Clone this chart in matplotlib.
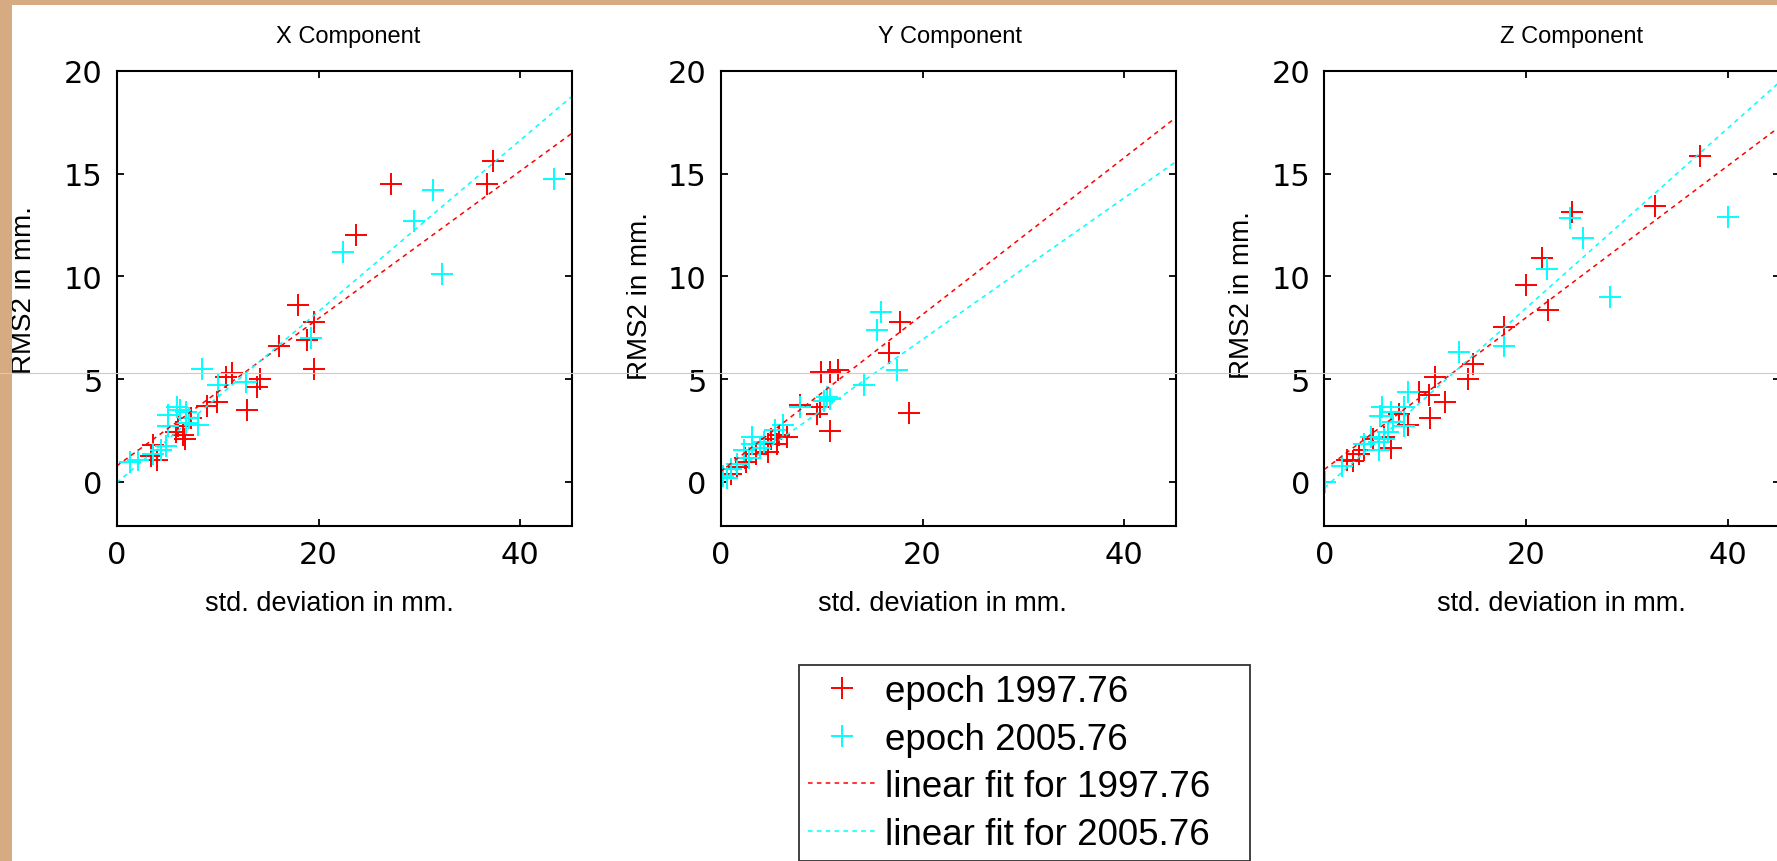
import matplotlib
matplotlib.use('Agg')
import matplotlib.pyplot as plt
from matplotlib.patches import Rectangle
from matplotlib.lines import Line2D

plt.rcParams['font.family'] = ['Liberation Sans', 'DejaVu Sans']

# ---------------- data ----------------
titles = ['X Component', 'Y Component', 'Z Component']
xlabel_text = 'std. deviation in mm.'
ylabel_text = 'RMS2 in mm.'
legend_labels = ['epoch 1997.76', 'epoch 2005.76',
                 'linear fit for 1997.76', 'linear fit for 2005.76']
xticks = [0, 20, 40]
yticks = [0, 5, 10, 15, 20]

# X component
x_red_x = [27.2, 37.3, 36.7, 23.7, 18.0, 19.6, 18.9, 19.6, 16.1, 11.4, 10.8, 14.2,
           13.9, 12.9, 9.9, 8.9, 7.4, 6.6, 5.9, 6.8, 3.6, 3.4, 4.0, 6.1]
x_red_y = [14.5, 15.6, 14.5, 12.0, 8.6, 7.8, 6.9, 5.5, 6.6, 5.3, 5.1, 5.0,
           4.6, 3.5, 3.9, 3.7, 3.1, 2.3, 2.4, 2.1, 1.8, 1.25, 1.05, 2.7]
x_cyan_x = [43.3, 31.3, 29.5, 32.2, 22.4, 19.3, 8.5, 10.0, 12.8, 5.95, 5.1, 6.9,
            6.25, 8.1, 6.9, 5.1, 4.85, 4.35, 3.6, 2.1, 1.3, 7.2]
x_cyan_y = [14.75, 14.2, 12.7, 10.1, 11.2, 7.0, 5.5, 4.7, 4.85, 3.65, 3.25, 3.4,
            3.5, 2.75, 2.85, 2.7, 1.75, 1.55, 1.35, 1.05, 0.95, 3.1]
x_fit_red = [0.77, 16.98]
x_fit_cyan = [-0.05, 18.78]

# Y component
y_red_x = [18.7, 17.8, 16.7, 9.9, 10.8, 11.6, 10.8, 9.5, 9.8, 7.9, 6.6, 5.8,
           5.0, 4.65, 4.65, 3.5, 2.55, 1.6, 1.0, 0.65, 2.4, 5.6]
y_red_y = [3.35, 7.8, 6.25, 5.35, 5.35, 5.45, 2.45, 3.3, 3.65, 3.75, 2.2, 2.3,
           2.1, 1.85, 1.45, 1.35, 0.95, 0.7, 0.4, 0.2, 1.15, 1.85]
y_cyan_x = [15.85, 15.5, 17.5, 14.2, 10.5, 10.2, 10.8, 7.9, 6.2, 5.4, 4.3, 3.9,
            3.1, 2.35, 2.85, 1.6, 1.0, 0.25, 0.65, 3.1]
y_cyan_y = [8.25, 7.4, 5.45, 4.7, 4.15, 3.95, 4.05, 3.65, 2.75, 2.5, 1.95, 1.65,
            1.85, 1.55, 1.15, 0.85, 0.6, 0.3, 0.2, 2.2]
y_fit_red = [0.5, 17.75]
y_fit_cyan = [0.03, 15.6]

# Z component
z_red_x = [37.2, 32.8, 24.5, 21.6, 20.0, 22.2, 17.8, 14.7, 14.2, 11.0, 12.0, 10.4,
           10.5, 9.4, 8.3, 7.4, 6.6, 5.9, 4.8, 3.9, 3.4, 2.8, 2.25]
z_red_y = [15.85, 13.45, 13.15, 10.9, 9.6, 8.35, 7.55, 5.75, 5.0, 5.1, 3.9, 4.2,
           3.1, 4.35, 2.75, 3.3, 1.65, 2.2, 2.1, 1.55, 1.35, 1.0, 1.05]
z_cyan_x = [40.0, 24.3, 25.6, 22.1, 28.3, 13.3, 17.8, 8.3, 7.9, 6.6, 5.7, 5.5,
            7.9, 6.3, 5.9, 5.4, 4.6, 3.9, 1.7, 0.1, 6.8, 5.4]
z_cyan_y = [12.9, 12.85, 11.85, 10.35, 9.0, 6.3, 6.6, 4.35, 3.65, 3.4, 3.65, 3.2,
            2.7, 2.4, 2.1, 1.95, 2.2, 1.85, 0.75, 0.0, 2.9, 1.55]
z_fit_red = [0.6, 17.3]
z_fit_cyan = [-0.3, 19.48]

fit_x = [0, 45.15]

panels = [
    (x_red_x, x_red_y, x_cyan_x, x_cyan_y, x_fit_red, x_fit_cyan),
    (y_red_x, y_red_y, y_cyan_x, y_cyan_y, y_fit_red, y_fit_cyan),
    (z_red_x, z_red_y, z_cyan_x, z_cyan_y, z_fit_red, z_fit_cyan),
]

# ---------------- layout ----------------
W, H = 1777, 862
fig = plt.figure(figsize=(W / 100, H / 100), dpi=100)
fig.patch.set_facecolor('white')

def fx(px):
    return px / W

def fy(py):
    return 1 - py / H

RED = '#FF0000'
CYAN = '#00FFFF'
TAN = '#D6AB82'

ax_lefts = [116.7, 720.7, 1324.4]
ax_top, ax_bot = 72.0, 526.7
ax_w = 455.6
title_cx = [347.7, 949.6, 1571.7]
xlab_cx = [329.0, 942.0, 1561.0]
ylab_x = [24.0, 640.0, 1242.0]
ylab_y = [290.0, 296.0, 295.0]

handles = None
for i, (rx, ry, cx, cy, fr, fc) in enumerate(panels):
    left = ax_lefts[i]
    ax = fig.add_axes([fx(left), fy(ax_bot), ax_w / W, (ax_bot - ax_top) / H])
    ax.set_facecolor('white')
    h1, = ax.plot(rx, ry, ls='none', marker='+', color=RED, ms=16, mew=1.4)
    h2, = ax.plot(cx, cy, ls='none', marker='+', color=CYAN, ms=16, mew=1.4)
    h3, = ax.plot(fit_x, fr, color=RED, lw=1.1, ls=(0, (3, 2.8)))
    h4, = ax.plot(fit_x, fc, color=CYAN, lw=1.1, ls=(0, (3, 2.8)))
    if handles is None:
        handles = [h1, h2, h3, h4]
    ax.set_xlim(0, 45.15)
    ax.set_ylim(-2.14, 20)
    ax.set_xticks(xticks)
    ax.set_yticks(yticks)
    ax.tick_params(direction='in', length=5, width=1.3, top=True, right=True,
                   labelsize=22, colors='black')
    ax.tick_params(axis='x', pad=10.5)
    ax.tick_params(axis='y', pad=10)
    for lab in ax.get_xticklabels() + ax.get_yticklabels():
        lab.set_family('DejaVu Sans')
    for s in ax.spines.values():
        s.set_linewidth(1.5)
        s.set_color('black')
    fig.text(fx(title_cx[i]), fy(42.7), titles[i], ha='center', va='baseline',
             fontsize=17)
    fig.text(fx(xlab_cx[i]), fy(604), xlabel_text, ha='center', va='center',
             fontsize=19.5)
    fig.text(fx(ylab_x[i]), fy(ylab_y[i]), ylabel_text, ha='center', va='center',
             rotation=90, fontsize=20)

leg = fig.legend(handles, legend_labels, loc='upper left',
                 bbox_to_anchor=(fx(799), fy(860), (1250 - 799) / W, (860 - 666) / H),
                 bbox_transform=fig.transFigure, mode='expand',
                 fontsize=26.5, frameon=True, fancybox=False, shadow=False,
                 framealpha=1, borderpad=0.24, labelspacing=0.345,
                 handlelength=1.85, handletextpad=0.25, borderaxespad=0,
                 numpoints=1)
leg.get_frame().set_edgecolor('#333333')
leg.get_frame().set_linewidth(1.3)

# page border remnants
fig.add_artist(Rectangle((0, 0), fx(11.5), 1, transform=fig.transFigure,
                         facecolor=TAN, edgecolor='none', zorder=20))
fig.add_artist(Rectangle((0, fy(5.5)), 1, 5.5 / H, transform=fig.transFigure,
                         facecolor=TAN, edgecolor='none', zorder=20))
fig.add_artist(Line2D([0, 1], [fy(373.7), fy(373.7)], transform=fig.transFigure,
                      color='#E6C6A6', lw=0.8, zorder=21))

fig.savefig('out.png', dpi=100, facecolor='white')
